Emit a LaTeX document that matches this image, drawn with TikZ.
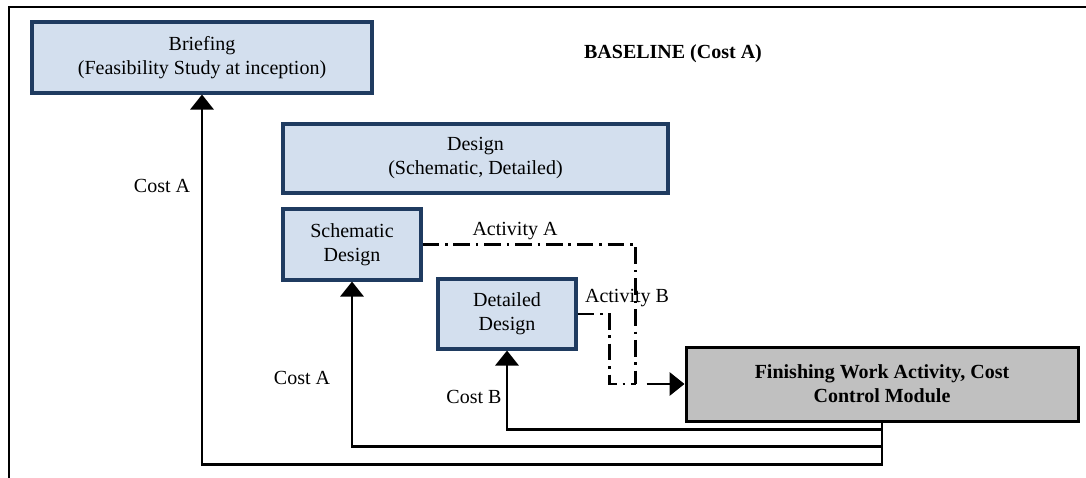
\documentclass[tikz,border=0pt]{standalone}
\usepackage{fontspec}
\setmainfont{Liberation Serif}
\usetikzlibrary{arrows.meta,calc}
\definecolor{boxfill}{HTML}{D3DFEE}
\definecolor{boxline}{HTML}{1F3B60}
\definecolor{finfill}{HTML}{C0C0C0}
\begin{document}
\begin{tikzpicture}[x=0.6pt,y=-0.6pt,
  bluebox/.style={draw=boxline,fill=boxfill,line width=1.9pt,align=center,font=\fontsize{12}{14.4}\selectfont,inner sep=0pt},
  greybox/.style={draw=black,fill=finfill,line width=1.8pt,align=center,font=\fontsize{12}{14.4}\selectfont\bfseries,inner sep=0pt},
  flow/.style={line width=1.4pt,-{Triangle[width=14pt,length=9pt]}},
  act/.style={line width=1.6pt,dash pattern=on 10pt off 3.5pt on 1.5pt off 3.5pt},
  lbl/.style={font=\fontsize{12}{14.4}\selectfont,inner sep=0pt}]
\useasboundingbox (0,0) rectangle (1086,478);
\draw[line width=1.3pt] (9,478) -- (9,7) -- (1086,7);
\node[bluebox,minimum width=204pt,minimum height=42.6pt] (brief) at (202,57.5) {Briefing\\(Feasibility Study at inception)};
\node[bluebox,minimum width=231pt,minimum height=41.4pt] (design) at (475.5,158.5) {Design\\(Schematic, Detailed)};
\node[bluebox,minimum width=82.8pt,minimum height=42.6pt] (schem) at (352,244.5) {Schematic\\Design};
\node[bluebox,minimum width=82.8pt,minimum height=42pt] (det) at (507,314) {Detailed\\Design};
\node[greybox,minimum width=235.2pt,minimum height=44.4pt] (fin) at (882,384) {Finishing Work Activity, Cost\\Control Module};
\node[lbl,font=\fontsize{12}{14.4}\selectfont\bfseries] (base) at (673,54) {BASELINE (Cost A)};
\node[lbl] (ca1) at (162,186) {Cost A};
\node[lbl] (ca2) at (302,378) {Cost A};
\node[lbl] (cb) at (474,397) {Cost B};
\node[lbl] (aa) at (515,231) {Activity A};
\node[lbl] (ab) at (627,298) {Activity B};
\draw[flow] (fin.south) -- ++(0,42) -| (brief.south);
\draw[flow] ($(fin.south)+(0,24)$) -| (schem.south);
\draw[flow] ($(fin.south)+(0,7)$) -| (det.south);
\coordinate (j) at ($(fin.west)+(-49,0)$);
\draw[act] (schem.east) -| (j);
\draw[act] (det.east) -- ++(32,0) |- (j);
\draw[flow] ($(j)+(11,0)$) -- (fin.west);
\end{tikzpicture}
\end{document}
